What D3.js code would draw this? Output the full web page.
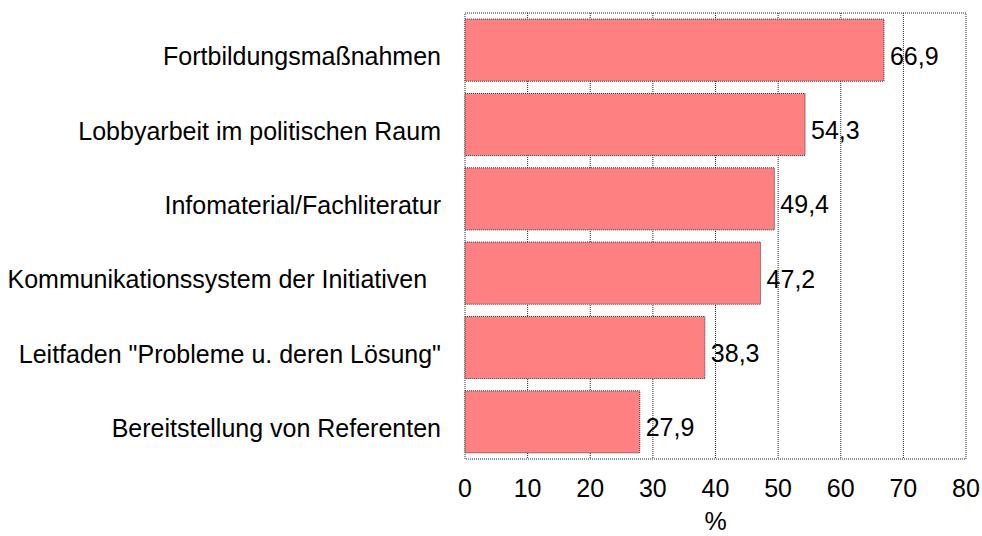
<!DOCTYPE html>
<html>
<head>
<meta charset="utf-8">
<script src="https://cdn.jsdelivr.net/npm/d3@7"></script>
<style>
  body { margin: 0; background: #fff; }
  text { font-family: "Liberation Sans", Arial, sans-serif; fill: #000; white-space: pre; }
</style>
</head>
<body>
<div id="chart"></div>
<script>
var categories = ['Fortbildungsmaßnahmen', 'Lobbyarbeit im politischen Raum', 'Infomaterial/Fachliteratur',
    'Kommunikationssystem der Initiativen  ', 'Leitfaden "Probleme u. deren Lösung"', 'Bereitstellung von Referenten'];
var values = [66.9, 54.3, 49.4, 47.2, 38.3, 27.9];
var ticks = [0, 10, 20, 30, 40, 50, 60, 70, 80];

var width = 982, height = 536;
var margin = {top: 13, right: 16, bottom: 77, left: 465};

var svg = d3.select('#chart')
    .append('svg')
        .attr('width', width)
        .attr('height', height);

var x = d3.scaleLinear().domain([0, 80]).range([margin.left, width - margin.right]);
var y = d3.scaleBand().domain(categories)
    .range([margin.top, height - margin.bottom])
    .paddingInner(0.165).paddingOuter(0.0825);

var dotted = '1,1';
var fontSize = '25px';

// gridlines
svg.append('g').selectAll('line')
    .data(ticks.slice(1, -1))
    .enter().append('line')
        .attr('x1', d => x(d)).attr('x2', d => x(d))
        .attr('y1', margin.top).attr('y2', height - margin.bottom)
        .attr('stroke', '#222').attr('stroke-dasharray', dotted);

// frame
svg.append('rect')
    .attr('x', x(0)).attr('y', margin.top)
    .attr('width', x(80) - x(0)).attr('height', height - margin.bottom - margin.top)
    .attr('fill', 'none').attr('stroke', '#222').attr('stroke-dasharray', dotted);

// bars
svg.append('g').selectAll('rect')
    .data(values)
    .enter().append('rect')
        .attr('x', x(0))
        .attr('y', (d, i) => y(categories[i]))
        .attr('width', d => x(d) - x(0))
        .attr('height', y.bandwidth())
        .attr('fill', '#ff8080')
        .attr('stroke', '#333').attr('stroke-dasharray', dotted);

// value labels
svg.append('g').selectAll('text')
    .data(values)
    .enter().append('text')
        .attr('x', d => x(d) + 6)
        .attr('y', (d, i) => y(categories[i]) + y.bandwidth() / 2 + 14.5)
        .style('font-size', fontSize)
        .text(d => d.toFixed(1).replace('.', ','));

// category labels
svg.append('g').selectAll('text')
    .data(categories)
    .enter().append('text')
        .attr('x', 441)
        .attr('y', d => y(d) + y.bandwidth() / 2 + 15)
        .attr('text-anchor', 'end')
        .style('font-size', fontSize)
        .text(d => d);

// x tick labels
svg.append('g').selectAll('text')
    .data(ticks)
    .enter().append('text')
        .attr('x', d => x(d))
        .attr('y', 497)
        .attr('text-anchor', 'middle')
        .style('font-size', fontSize)
        .text(d => d);

// axis title
svg.append('text')
    .attr('x', (x(0) + x(80)) / 2)
    .attr('y', 530)
    .attr('text-anchor', 'middle')
    .style('font-size', fontSize)
    .text('%');
</script>
</body>
</html>
